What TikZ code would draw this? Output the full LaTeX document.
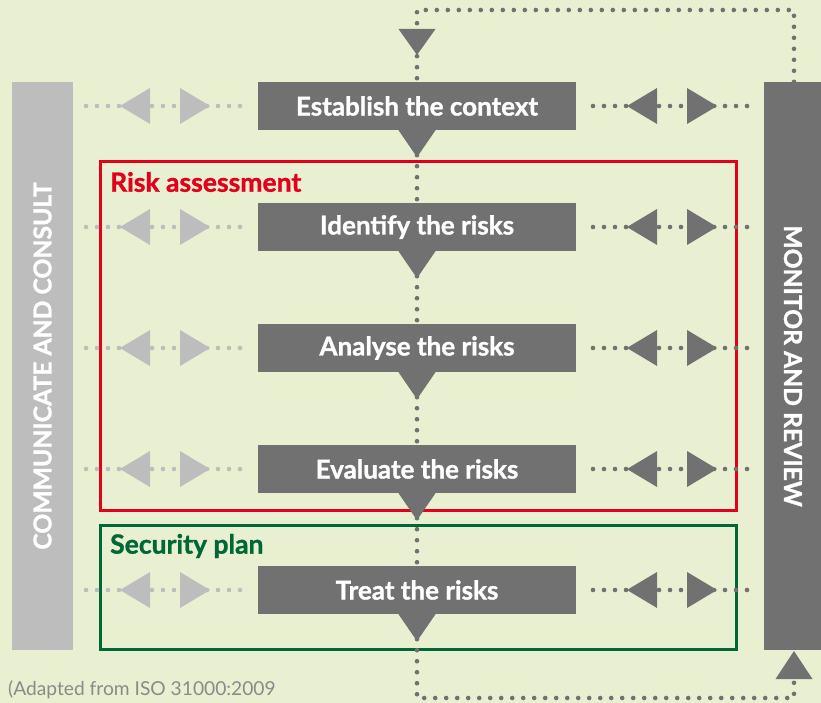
\documentclass[tikz,border=0pt]{standalone}
\usepackage{fontspec}
\setmainfont{Lato}
\definecolor{bg}{HTML}{E9F0D1}
\definecolor{dg}{HTML}{717171}
\definecolor{lg}{HTML}{BDBDBD}
\definecolor{rk}{HTML}{E2001A}
\definecolor{gk}{HTML}{006837}
\definecolor{ft}{HTML}{8A8A8A}
\newcommand{\heavyfnt}[1]{\bfseries\addfontfeature{FakeBold=1.2}\fontsize{#1}{#1}\selectfont}
\tikzset{
  stepbox/.style={fill=dg, text=white, font=\heavyfnt{26}, minimum width=318pt, minimum height=48pt, inner sep=0pt},
  dotline/.style={draw=#1, line width=4.6pt, line cap=round, dash pattern=on 0pt off 11pt},
  dotline/.default=dg,
  bartext/.style={text=white, font=\heavyfnt{24.7}, inner sep=0pt},
  grouplabel/.style={font=\heavyfnt{26.5}, anchor=west, inner sep=0pt},
  pics/sidearrows/.style={code={
    \draw[dotline=#1] (0,0) -- (159,0);
    \fill[#1] (34,0) -- (64,-18) -- (64,18) -- cycle;
    \fill[#1] (124,0) -- (94,-18) -- (94,18) -- cycle;
  }}
}
\begin{document}
\begin{tikzpicture}[x=1pt,y=-1pt]
\fill[bg] (0,0) rectangle (821,703);
\useasboundingbox (0,0) rectangle (821,703);

% feedback loop coordinates
\coordinate (tl) at (417,10);
\coordinate (tr) at (794,10);
\coordinate (bl) at (417,698);
\coordinate (br) at (794,698);

% group frames
\draw[rk, line width=3pt] (100,162) rectangle (736,510);
\draw[gk, line width=3pt] (100,525) rectangle (736,649);
\node[grouplabel, text=rk] (ra) at (110,182) {Risk assessment};
\node[grouplabel, text=gk] (sp) at (110,546) {Security plan};

% side bars
\node[rotate=90, fill=lg, minimum width=568pt, minimum height=61pt, bartext] (cc) at (42.5,366) {COMMUNICATE AND CONSULT};
\node[rotate=-90, fill=dg, minimum width=568pt, minimum height=58pt, bartext] (mr) at (793,366) {MONITOR AND REVIEW};

% main dotted flow and loop
\draw[dotline] (tr |- mr.west) -- (tr) -- (tl) -- (bl) -- (br) -- (br |- mr.east);

% process boxes
\node[stepbox] (est) at (417,106) {Establish the context};
\node[stepbox] (idr) at (417,227) {Identify the risks};
\node[stepbox] (anr) at (417,348) {Analyse the risks};
\node[stepbox] (evr) at (417,469) {Evaluate the risks};
\node[stepbox] (trr) at (417,590) {Treat the risks};

% flow triangles
\fill[dg] (398.5,29) -- (435.5,29) -- (417,55) -- cycle;
\foreach \b in {est,idr,anr,evr,trr}{
  \fill[dg] (\b.south) ++(-18.5,0) -- ++(37,0) -- ++(-18.5,27) -- cycle;
}
\fill[dg] (775.5,679) -- (812.5,679) -- (794,651) -- cycle;

% side arrows
\foreach \b in {est,idr,anr,evr,trr}{
  \path (\b.center) ++(-331,0) pic {sidearrows=lg};
  \path (\b.center) ++(176,0) pic {sidearrows=dg};
}

% footer
\node[anchor=base west, text=ft, font=\fontsize{19.2}{19.2}\selectfont, inner sep=0pt] (src) at (8,695) {(Adapted from ISO 31000:2009};
\end{tikzpicture}
\end{document}
